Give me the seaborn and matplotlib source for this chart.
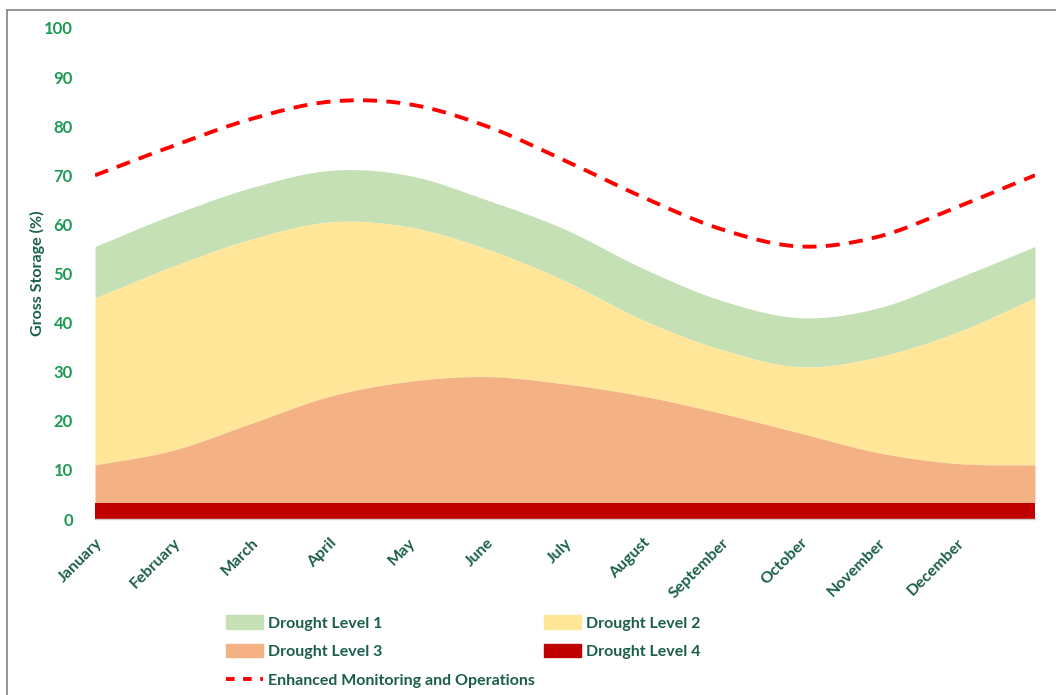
import numpy as np
import pandas as pd
import matplotlib
matplotlib.use("Agg")
import matplotlib.pyplot as plt
from matplotlib.patches import Patch
from matplotlib.lines import Line2D
import seaborn as sns

# ---- data ----
months = ["January", "February", "March", "April", "May", "June", "July",
          "August", "September", "October", "November", "December", ""]
level1 = [55.5, 62, 67.5, 71, 70, 65, 59, 51, 44.5, 41, 43, 49, 55.5]
level2 = [45, 51.5, 57, 60.5, 59.5, 55, 48.5, 40.5, 34.5, 31, 33, 38, 45]
level3 = [11, 14, 19.5, 25, 28, 29, 27.5, 25, 21.5, 17.5, 13.5, 11.3, 11]
level4 = [3.3] * 13
enhanced = [70, 76, 81.5, 85, 84.5, 80, 73, 65.5, 59, 55.5, 57.5, 63.5, 70]
yticks = list(range(0, 101, 10))

C1, C2, C3, C4 = "#C5E0B4", "#FFE699", "#F4B183", "#C00000"
CRED = "#FF0000"
TICKG = "#1E9A55"
DARKG = "#1B5E4B"


def smooth(y, n=20):
    """Catmull-Rom style smoothing of a series for rendering (like Excel smoothed lines)."""
    y = np.asarray(y, float)
    x = np.arange(len(y), dtype=float)
    P = np.concatenate([[2 * y[0] - y[1]], y, [2 * y[-1] - y[-2]]])
    xs, ys = [], []
    for i in range(len(y) - 1):
        p0, p1, p2, p3 = P[i], P[i + 1], P[i + 2], P[i + 3]
        t = np.linspace(0, 1, n, endpoint=False)
        yy = 0.5 * ((2 * p1) + (-p0 + p2) * t + (2 * p0 - 5 * p1 + 4 * p2 - p3) * t ** 2
                    + (-p0 + 3 * p1 - 3 * p2 + p3) * t ** 3)
        xs.append(x[i] + t)
        ys.append(yy)
    xs.append([x[-1]])
    ys.append([y[-1]])
    return np.concatenate(xs), np.concatenate(ys)


sns.set_theme(style="white")
plt.rcParams["font.family"] = ["Lato", "DejaVu Sans"]

fig = plt.figure(figsize=(10.56, 6.95), dpi=100)
ax = fig.add_axes([95 / 1056, 1 - 519 / 695, 940 / 1056, 491 / 695])

xs, s1 = smooth(level1)
_, s2 = smooth(level2)
_, s3 = smooth(level3)
_, s4 = smooth(level4)
_, se = smooth(enhanced)

ax.fill_between(xs, s2, s1, color=C1, lw=0)
ax.fill_between(xs, s3, s2, color=C2, lw=0)
ax.fill_between(xs, s4, s3, color=C3, lw=0)
ax.fill_between(xs, 0, s4, color=C4, lw=0)

df = pd.DataFrame({"x": xs, "y": se})
sns.lineplot(data=df, x="x", y="y", ax=ax, color=CRED, lw=2.8,
             linestyle=(0, (3.6, 2.4)), legend=False)

ax.set_xlim(0, 12)
ax.set_ylim(0, 100)
ax.set_xticks(range(12))
ax.set_xticklabels(months[:12], rotation=45, ha="right", rotation_mode="anchor",
                   color=DARKG, fontweight="bold", fontsize=11.5)
ax.set_yticks(yticks)
ax.set_yticklabels([str(v) for v in yticks], color=TICKG, fontweight="bold", fontsize=12)
ax.tick_params(axis="x", length=0, pad=12)
ax.tick_params(axis="y", length=0, pad=16)
ax.set_xlabel("")
ax.set_ylabel("Gross Storage (%)", color=DARKG, fontweight="bold", fontsize=11.5)
for s in ["top", "right", "left"]:
    ax.spines[s].set_visible(False)
ax.spines["bottom"].set_color("#D0D0D0")
ax.spines["bottom"].set_linewidth(1.0)
ax.yaxis.set_label_coords(-50 / 940, 0.5)

# outer chart frame (top and left edges)
fig.add_artist(Line2D([7 / 1056, 1.0], [1 - 10 / 695, 1 - 10 / 695], color="#8C8C8C", lw=1.3,
                      transform=fig.transFigure))
fig.add_artist(Line2D([7 / 1056, 7 / 1056], [0, 1 - 10 / 695], color="#8C8C8C", lw=1.3,
                      transform=fig.transFigure))

handles = [Patch(color=C1, label="Drought Level 1"),
           Patch(color=C3, label="Drought Level 3"),
           Line2D([], [], color=CRED, lw=2.8, linestyle=(0, (2.2, 2.2)),
                  label="Enhanced Monitoring and Operations"),
           Patch(color=C2, label="Drought Level 2"),
           Patch(color=C4, label="Drought Level 4")]
leg = fig.legend(handles=handles, ncol=2, loc="upper left",
                 bbox_to_anchor=(212 / 1056, 1 - 601 / 695), frameon=False,
                 fontsize=11.5, handlelength=2.3, handleheight=0.9, columnspacing=0.6,
                 labelspacing=0.85, handletextpad=0.3)
for t in leg.get_texts():
    t.set_color(DARKG)
    t.set_fontweight("bold")

fig.savefig("out.png", dpi=100, facecolor="white")
